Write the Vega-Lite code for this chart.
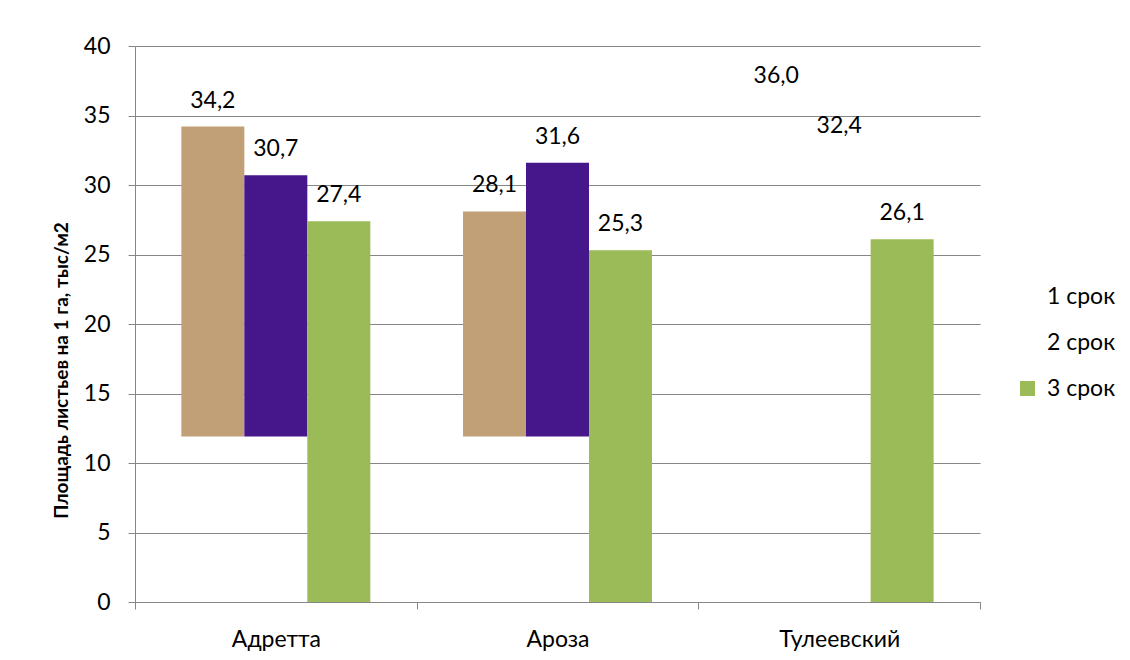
{
  "$schema": "https://vega.github.io/schema/vega-lite/v6.json",
  "width": 845,
  "height": 556,
  "autosize": "none",
  "padding": {"left": 135, "top": 46, "right": 150, "bottom": 58},
  "background": "#ffffff",
  "config": {
    "view": {"stroke": null},
    "font": "Lato",
    "locale": {"number": {"decimal": ",", "thousands": "\u00a0", "grouping": [3], "currency": ["", ""]}}
  },
  "data": {
    "values": [
      {"sort": "Адретта", "srok": "1 срок", "value": 34.2},
      {"sort": "Адретта", "srok": "2 срок", "value": 30.7},
      {"sort": "Адретта", "srok": "3 срок", "value": 27.4},
      {"sort": "Ароза", "srok": "1 срок", "value": 28.1},
      {"sort": "Ароза", "srok": "2 срок", "value": 31.6},
      {"sort": "Ароза", "srok": "3 срок", "value": 25.3},
      {"sort": "Тулеевский", "srok": "1 срок", "value": 36.0},
      {"sort": "Тулеевский", "srok": "2 срок", "value": 32.4},
      {"sort": "Тулеевский", "srok": "3 срок", "value": 26.1}
    ]
  },
  "encoding": {
    "x": {
      "field": "sort",
      "type": "nominal",
      "sort": ["Адретта", "Ароза", "Тулеевский"],
      "scale": {"paddingInner": 0, "paddingOuter": 0},
      "axis": {
        "title": null,
        "labelAngle": 0,
        "labelFontSize": 23,
        "labelColor": "#000000",
        "labelFont": "Lato",
        "tickBand": "extent",
        "tickSize": 7,
        "tickColor": "#868686",
        "domainColor": "#868686",
        "labelPadding": 19
      }
    },
    "xOffset": {
      "field": "srok",
      "type": "nominal",
      "scale": {"domain": ["1 срок", "2 срок", "3 срок"], "paddingInner": 0, "paddingOuter": 0.736}
    },
    "y": {
      "field": "value",
      "type": "quantitative",
      "scale": {"domain": [0, 40], "nice": false},
      "axis": {
        "title": "Площадь листьев на 1 га, тыс/м2",
        "values": [0, 5, 10, 15, 20, 25, 30, 35, 40],
        "grid": true,
        "gridColor": "#868686",
        "domainColor": "#868686",
        "tickColor": "#868686",
        "tickSize": 7,
        "labelPadding": 18,
        "labelFontSize": 23,
        "labelColor": "#000000",
        "labelFont": "Lato",
        "titleFont": "Lato",
        "titleFontSize": 19,
        "titleFontWeight": "bold",
        "titleColor": "#000000",
        "titleX": -74,
        "titleY": 324,
        "titleAngle": 270,
        "titleBaseline": "middle",
        "titleAlign": "center"
      }
    }
  },
  "layer": [
    {
      "transform": [{"filter": "datum.srok !== '3 срок' && datum.sort !== 'Тулеевский'"}],
      "mark": {"type": "bar"},
      "encoding": {
        "y2": {"datum": 11.9},
        "color": {
          "field": "srok",
          "type": "nominal",
          "scale": {"domain": ["1 срок", "2 срок", "3 срок"], "range": ["#c1a078", "#45178a", "#9bbb59"]},
          "legend": {
            "orient": "none",
            "legendX": 881,
            "legendY": 239,
            "title": null,
            "symbolType": "square",
            "symbolSize": 225,
            "labelFontSize": 23,
            "labelFont": "Lato",
            "labelColor": "#000000",
            "labelOffset": 8,
            "rowPadding": 22,
            "encode": {
              "symbols": {
                "update": {
                  "fillOpacity": {"signal": "datum.value === '3 срок' ? 1 : 0"},
                  "strokeOpacity": {"value": 0}
                }
              }
            }
          }
        }
      }
    },
    {
      "transform": [{"filter": "datum.srok === '3 срок'"}],
      "mark": {"type": "bar"},
      "encoding": {
        "color": {
          "field": "srok",
          "type": "nominal",
          "scale": {"domain": ["1 срок", "2 срок", "3 срок"], "range": ["#c1a078", "#45178a", "#9bbb59"]}
        }
      }
    },
    {
      "mark": {"type": "text", "fontSize": 23, "font": "Lato", "color": "#000000", "baseline": "middle", "dy": -26},
      "encoding": {
        "text": {"field": "value", "type": "quantitative", "format": ".1f"}
      }
    }
  ]
}
